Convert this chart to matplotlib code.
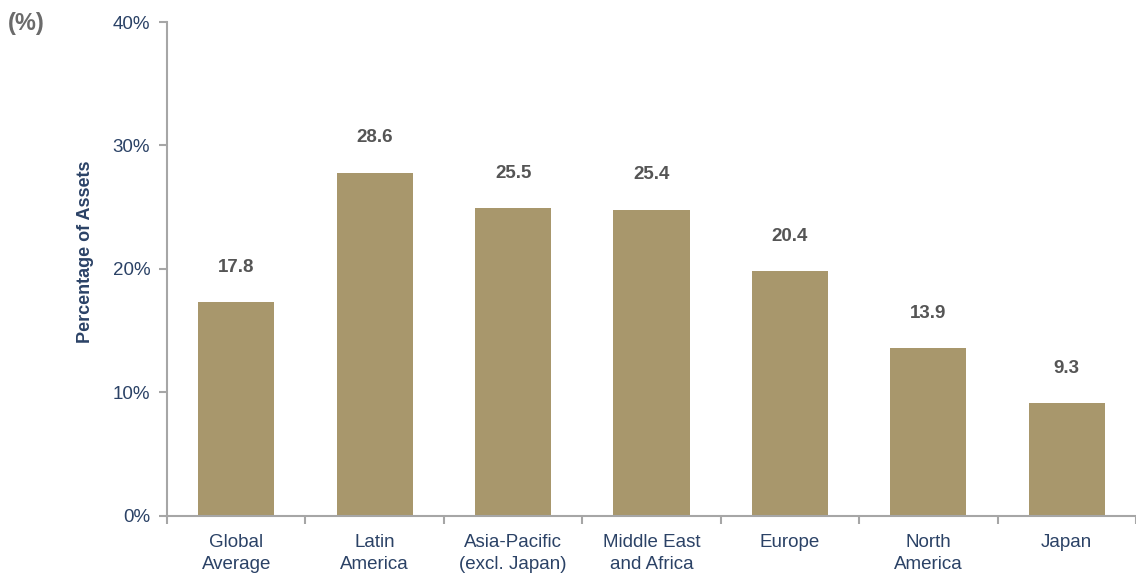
import numpy as np
import matplotlib.pyplot as plt

plt.rcParams['font.family'] = ['Liberation Sans', 'DejaVu Sans']

regions = ['Global\nAverage', 'Latin\nAmerica', 'Asia-Pacific\n(excl. Japan)',
           'Middle East\nand Africa', 'Europe', 'North\nAmerica', 'Japan']
bar_heights = [17.3, 27.8, 24.9, 24.8, 19.8, 13.6, 9.15]
value_labels = ['17.8', '28.6', '25.5', '25.4', '20.4', '13.9', '9.3']
y_ticks = [0, 10, 20, 30, 40]

bar_color = '#a8976c'
axis_color = '#a6a6a6'
text_blue = '#2b4266'

fig = plt.figure(figsize=(11.36, 5.76), dpi=100)
ax = fig.add_axes([0.147, 0.1042, 0.853, 0.8576])

x = np.arange(len(regions))
ax.bar(x, bar_heights, width=0.55, color=bar_color, zorder=2)

for xi, h, lab in zip(x, bar_heights, value_labels):
    ax.annotate(lab, (xi, h), xytext=(0, 25), textcoords='offset points',
                ha='center', va='center', fontsize=13.5, fontweight='bold',
                color='#555555')

ax.set_xlim(-0.5, len(regions) - 0.5)
ax.set_ylim(0, 40)

# ticks on category boundaries, labels at centres
ax.set_xticks(np.arange(len(regions) + 1) - 0.5)
ax.set_xticklabels([])
ax.set_xticks(x, minor=True)
ax.set_xticklabels(regions, minor=True, fontsize=13.5, color=text_blue,
                   linespacing=1.35)
ax.tick_params(axis='x', which='minor', length=0, pad=13)
ax.tick_params(axis='x', which='major', length=6, width=1.5, color=axis_color,
               direction='out')

ax.set_yticks(y_ticks)
ax.set_yticklabels([f'{t}%' for t in y_ticks], fontsize=13.5, color=text_blue)
ax.tick_params(axis='y', length=6, width=1.5, color=axis_color,
               direction='out', pad=6)

for side in ['top', 'right']:
    ax.spines[side].set_visible(False)
for side in ['left', 'bottom']:
    ax.spines[side].set_color(axis_color)
    ax.spines[side].set_linewidth(1.5)

ax.set_ylabel('Percentage of Assets', fontsize=13, fontweight='bold',
              color=text_blue)
ax.yaxis.set_label_coords(-0.075, 0.534)

fig.text(0.007, 0.96, '(%)', fontsize=17, fontweight='bold', color='#6b6b6b',
         ha='left', va='center')

fig.savefig('out.png', dpi=100)
